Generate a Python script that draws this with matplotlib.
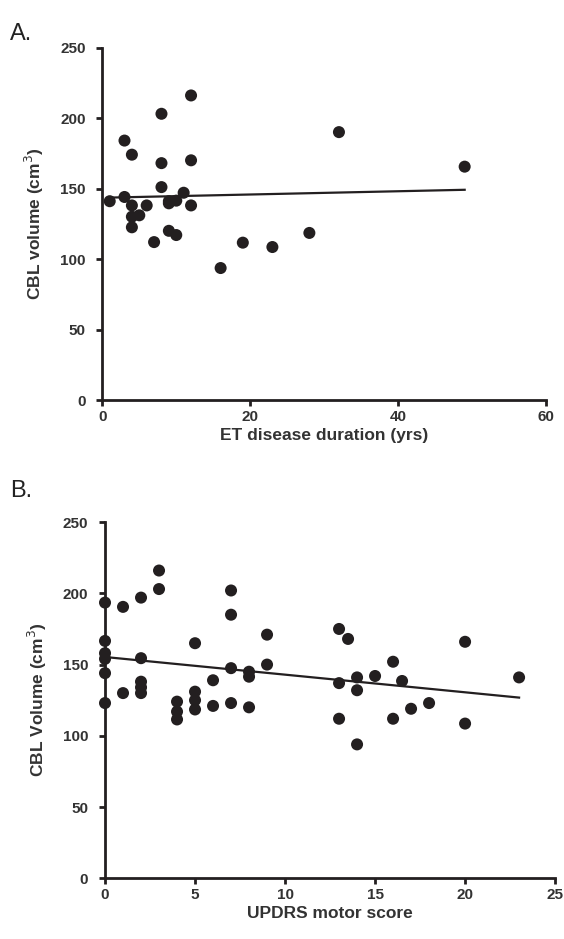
import numpy as np
import matplotlib
matplotlib.use("Agg")
import matplotlib.pyplot as plt

plt.rcParams['font.family'] = ['Liberation Sans', 'DejaVu Sans']

# Panel A: ET disease duration vs CBL volume
dur_years = [12, 8, 3, 4, 8, 12, 8, 11, 1, 3, 4, 6, 9, 10, 12, 4, 5, 4, 9, 10, 7, 19, 23, 16, 32, 49, 28, 9]
cbl_vol_a = [216, 203, 184, 174, 168, 170, 151, 147, 141, 144, 138, 138, 139.5, 141.4, 138, 130, 131, 122.5, 120, 117, 112, 111.6, 108.5, 93.6, 190, 165.5, 118.5, 141]

# Panel B: UPDRS motor score vs CBL volume
updrs = [0, 0, 0, 0, 0, 0,
         1, 1,
         2, 2, 2, 2, 2,
         3, 3,
         4, 4, 4,
         5, 5, 5, 5,
         6, 6,
         7, 7, 7, 7,
         8, 8, 8,
         9, 9,
         13, 13, 13, 13.5,
         14, 14, 14, 15,
         16, 16, 16.5, 17, 18,
         20, 20, 23]
cbl_vol_b = [193.5, 166.6, 158, 154, 144, 123,
             190.5, 130,
             197, 154.5, 138, 134, 130,
             216, 203,
             124, 117, 111.5,
             165, 131, 125, 118.5,
             139, 121,
             202, 185, 147.5, 123,
             145, 141.5, 120,
             171, 150,
             175, 137, 112, 168,
             141, 132, 94, 142,
             152, 112, 138.5, 119, 123,
             166, 108.6, 141]

xticks_a = [0, 20, 40, 60]
xticks_b = [0, 5, 10, 15, 20, 25]
yticks = [0, 50, 100, 150, 200, 250]

fig = plt.figure(figsize=(5.64, 9.39), dpi=100)
axA = fig.add_axes([0.1814, 0.574, 0.7867, 0.3754])
axB = fig.add_axes([0.1862, 0.0646, 0.798, 0.3794])

dot_color = '#231f20'

def style(ax):
    for s in ['top', 'right']:
        ax.spines[s].set_visible(False)
    for s in ['left', 'bottom']:
        ax.spines[s].set_linewidth(2.0)
        ax.spines[s].set_color('#231f20')
    ax.tick_params(direction='out', length=4, width=2, color='#231f20', labelsize=11)
    ax.tick_params(axis='x', pad=3)
    ax.tick_params(axis='y', pad=8)
    for lab in ax.get_xticklabels() + ax.get_yticklabels():
        lab.set_fontweight('bold')
        lab.set_color('#333333')

def panel(ax, x, y, xticks, xlabel, ylabel):
    x = np.asarray(x, float); y = np.asarray(y, float)
    ax.scatter(x, y, s=75, color=dot_color, zorder=3, edgecolors='none', clip_on=False)
    m, b = np.polyfit(x, y, 1)
    xs = np.array([x.min(), x.max()])
    ax.plot(xs, m * xs + b, color='#231f20', lw=1.6, zorder=2)
    ax.set_xlim(xticks[0], xticks[-1])
    ax.set_ylim(0, 250)
    ax.set_xticks(xticks)
    ax.set_yticks(yticks)
    ax.set_xlabel(xlabel, fontsize=12.5, fontweight='bold', color='#333333', labelpad=3)
    ax.set_ylabel(ylabel, fontsize=12.5, fontweight='bold', color='#333333', labelpad=10)
    style(ax)

panel(axA, dur_years, cbl_vol_a, xticks_a, 'ET disease duration (yrs)', 'CBL volume (cm$^{3}$)')
panel(axB, updrs, cbl_vol_b, xticks_b, 'UPDRS motor score', 'CBL Volume (cm$^{3}$)')

fig.text(0.018, 0.957, 'A.', fontsize=17, color='#222222')
fig.text(0.018, 0.471, 'B.', fontsize=17, color='#222222')

fig.savefig('out.png', dpi=100, facecolor='white')
